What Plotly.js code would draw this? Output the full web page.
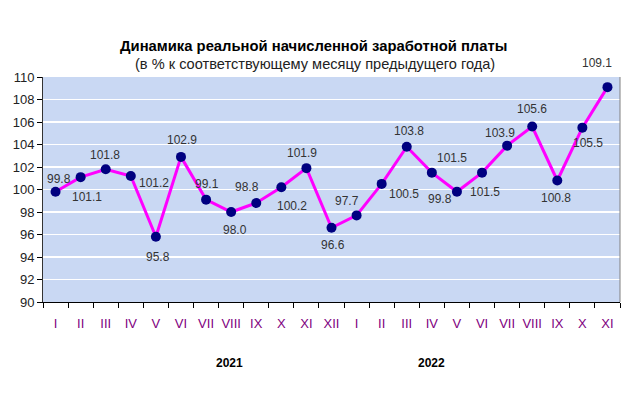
<!DOCTYPE html>
<html>
<head>
<meta charset="utf-8">
<script src="https://cdn.plot.ly/plotly-3.0.1.min.js"></script>
<style>html,body{margin:0;padding:0;background:#fff;}#chart{width:636px;height:399px;}</style>
</head>
<body>
<div id="chart"></div>
<script>
const months = ["I","II","III","IV","V","VI","VII","VIII","IX","X","XI","XII",
                "I","II","III","IV","V","VI","VII","VIII","IX","X","XI"];
const values = [99.8,101.1,101.8,101.2,95.8,102.9,99.1,98.0,98.8,100.2,101.9,96.6,
                97.7,100.5,103.8,101.5,99.8,101.5,103.9,105.6,100.8,105.5,109.1];
const years = ["2021","2022"];
// label offsets from each point, in pixels (right, down)
const labelDx = [3,6,-1,23,2,1,1,4,-9,11,-4,1,-10,22,2,20,-17,3,-7,0,-1,6,-10];
const labelDy = [-13,20,-14,7,20,-17,-16,18,-16,19,-15,17,-14,10,-16,-15,7,19,-13,-18,17,15,-24];

const idx = months.map((m,i)=>i);
const bounds = [];
for (let i=0;i<=months.length;i++) bounds.push(i-0.5);
const FONT = "Liberation Sans, Arial, sans-serif";

const trace = {
  type: "scatter",
  mode: "lines+markers",
  x: idx,
  y: values,
  line: {color: "#ff00ff", width: 3},
  marker: {color: "#000080", size: 10},
  cliponaxis: false,
  hoverinfo: "x+y"
};

const labelAnns = values.map((v,i)=>({
  xref: "x", yref: "y", x: idx[i], y: v, text: v.toFixed(1), showarrow: false,
  xanchor: "center", yanchor: "middle", xshift: labelDx[i], yshift: -labelDy[i],
  font: {family: FONT, size: 12, color: "#333333"}
}));

const layout = {
  width: 636, height: 399,
  margin: {l: 43, r: 16, t: 77, b: 97},
  paper_bgcolor: "#ffffff",
  plot_bgcolor: "#c9d8f3",
  showlegend: false,
  font: {family: FONT},
  xaxis: {
    range: [-0.5, months.length-0.5],
    tickmode: "array", tickvals: idx, ticktext: months,
    ticks: "", showgrid: false, zeroline: false,
    showline: true, linecolor: "#000000", linewidth: 1,
    tickfont: {family: FONT, size: 13, color: "#800080"},
    ticklabelstandoff: 9,
    minor: {tickmode: "array", tickvals: bounds, ticks: "outside", ticklen: 5, tickcolor: "#000000", showgrid: false}
  },
  yaxis: {
    range: [90, 110], dtick: 2, tick0: 90,
    ticks: "outside", ticklen: 5, tickcolor: "#000000",
    showline: true, linecolor: "#333333", linewidth: 1,
    showgrid: true, gridcolor: "#ffffff", gridwidth: 1.5,
    zeroline: false,
    tickfont: {family: FONT, size: 13, color: "#222222"}
  },
  shapes: [
    {type: "line", xref: "paper", yref: "paper", x0: 1, x1: 1, y0: 0, y1: 1, line: {color: "#808080", width: 1}}
  ],
  annotations: [
    {xref: "paper", yref: "paper", x: 0.468, y: 1.138, xanchor: "center", yanchor: "middle", showarrow: false,
     text: "<b>Динамика реальной начисленной заработной платы</b>", font: {family: FONT, size: 14.8, color: "#000000"}},
    {xref: "paper", yref: "paper", x: 0.472, y: 1.058, xanchor: "center", yanchor: "middle", showarrow: false,
     text: "(в % к соответствующему месяцу предыдущего года)", font: {family: FONT, size: 14.6, color: "#222222"}},
    {xref: "paper", yref: "paper", x: 0.324, y: -0.271, xanchor: "center", yanchor: "middle", showarrow: false,
     text: "<b>" + years[0] + "</b>", font: {family: FONT, size: 12, color: "#000000"}},
    {xref: "paper", yref: "paper", x: 0.674, y: -0.271, xanchor: "center", yanchor: "middle", showarrow: false,
     text: "<b>" + years[1] + "</b>", font: {family: FONT, size: 12, color: "#000000"}}
  ].concat(labelAnns)
};

Plotly.newPlot("chart", [trace], layout, {staticPlot: true, displayModeBar: false});
</script>
</body>
</html>
